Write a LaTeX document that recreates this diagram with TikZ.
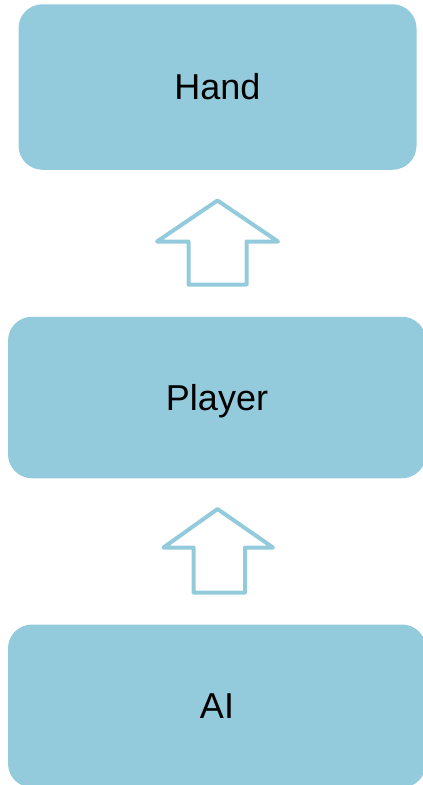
\documentclass[tikz,border=0pt]{standalone}
\usepackage{fontspec}
\setmainfont{Liberation Sans}
\definecolor{boxblue}{HTML}{93CBDC}
\tikzset{
  box/.style={rectangle, rounded corners=24pt, fill=boxblue, draw=none,
    inner sep=0pt, text height=25.5pt, text depth=0pt, font=\fontsize{36}{40}\selectfont},
  uparrow/.style={draw=boxblue, line width=4pt, line join=round, fill=none}
}
\begin{document}
\begin{tikzpicture}[x=1pt, y=-1pt]
\useasboundingbox (0,0) rectangle (423,785);
\node[box, minimum width=398pt, minimum height=165.5pt] (hand) at (217.5,87) {Hand};
\node[box, minimum width=418pt, minimum height=161.5pt] (player) at (217,397.5) {Player};
\node[box, minimum width=418pt, minimum height=163pt] (ai) at (217,706) {AI};
% hollow block arrows
\draw[uparrow] (217.5,200.5) -- (278,241.5) -- (246.5,241.5) -- (246.5,284.5)
  -- (188.5,284.5) -- (188.5,241.5) -- (157,241.5) -- cycle;
\draw[uparrow] (217.5,509) -- (273,547.5) -- (245,547.5) -- (245,592.5)
  -- (193.5,592.5) -- (193.5,547.5) -- (163.5,547.5) -- cycle;
\end{tikzpicture}
\end{document}
